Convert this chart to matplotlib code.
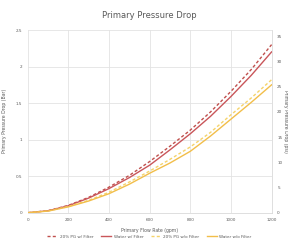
import numpy as np
import matplotlib
matplotlib.use('Agg')
import matplotlib.pyplot as plt

flow = [0, 100, 200, 300, 400, 500, 600, 700, 800, 900, 1000, 1100, 1200]
pg_filter = [0, 0.028, 0.10, 0.21, 0.35, 0.51, 0.70, 0.91, 1.13, 1.38, 1.66, 1.96, 2.30]
water_filter = [0, 0.026, 0.095, 0.20, 0.33, 0.48, 0.65, 0.86, 1.08, 1.32, 1.59, 1.88, 2.20]
pg_nofilter = [0, 0.024, 0.085, 0.17, 0.28, 0.42, 0.57, 0.73, 0.90, 1.10, 1.34, 1.57, 1.82]
water_nofilter = [0, 0.022, 0.08, 0.16, 0.26, 0.39, 0.54, 0.68, 0.84, 1.05, 1.28, 1.51, 1.75]
labels = ['20% PG w/ Filter', 'Water w/ Filter', '20% PG w/o Filter', 'Water w/o Filter']

BAR_TO_PSI = 14.5038
tick_fs = 3
grey = '#595959'

fig = plt.figure(figsize=(2.88, 2.42), dpi=100)
ax = fig.add_axes([0.096, 0.121, 0.847, 0.755])

dash = (0, (2.2, 1.6))
ax.plot(flow, pg_filter, color='#C0504D', lw=1.0, ls=dash, label=labels[0])
ax.plot(flow, water_filter, color='#C9565A', lw=1.0, label=labels[1])
ax.plot(flow, pg_nofilter, color='#F5D36A', lw=1.0, ls=dash, label=labels[2])
ax.plot(flow, water_nofilter, color='#F2BE4A', lw=1.0, label=labels[3])

ax.set_xlim(0, 1200)
ax.set_ylim(0, 2.5)
ax.set_xticks(np.arange(0, 1201, 200))
ax.set_yticks(np.arange(0, 2.51, 0.5))
ax.set_yticklabels(['0', '0.5', '1', '1.5', '2', '2.5'])
ax.grid(True, color='#E3E3E3', lw=0.6)
ax.set_axisbelow(True)
for s in ax.spines.values():
    s.set_visible(False)
ax.spines['bottom'].set_visible(True)
ax.spines['bottom'].set_color('#D9D9D9')
ax.spines['bottom'].set_linewidth(0.6)
ax.tick_params(length=0, labelsize=tick_fs, colors=grey, pad=4)

ax2 = ax.twinx()
ax2.set_ylim(0, 2.5 * BAR_TO_PSI)
ax2.set_yticks(np.arange(0, 36, 5))
for s in ax2.spines.values():
    s.set_visible(False)
ax2.spines['right'].set_visible(True)
ax2.spines['right'].set_color('#D9D9D9')
ax2.spines['right'].set_linewidth(0.6)
ax2.tick_params(length=0, labelsize=tick_fs, colors=grey, pad=4)

ax.set_title('Primary Pressure Drop', fontsize=6, color=grey, pad=9)
ax.set_xlabel('Primary Flow Rate (gpm)', fontsize=3.3, color=grey, labelpad=4)
ax.set_ylabel('Primary Pressure Drop (Bar)', fontsize=3.3, color=grey, labelpad=6)
ax2.set_ylabel('Primary Pressure Drop (psi)', fontsize=3.3, color=grey,
               rotation=270, labelpad=4)

ax.legend(loc='upper center', bbox_to_anchor=(0.5, -0.1), ncol=4, frameon=False,
          fontsize=3.0, labelcolor=grey, handlelength=2.4, handletextpad=0.6,
          columnspacing=1.8)

fig.savefig('out.png', dpi=100)
